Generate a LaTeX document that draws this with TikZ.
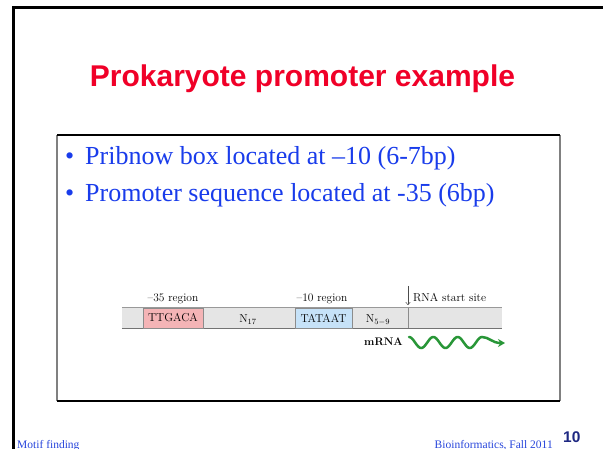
\documentclass[tikz,border=0pt]{standalone}
\usepackage{fontspec}
\newfontfamily\arialfont{Liberation Sans}
\newfontfamily\timesfont{Liberation Serif}
\usetikzlibrary{arrows.meta}
\definecolor{titlered}{RGB}{240,0,40}
\definecolor{bulletblue}{RGB}{25,60,235}
\definecolor{footblue}{RGB}{40,70,220}
\definecolor{numblue}{RGB}{30,40,130}
\definecolor{barfill}{RGB}{229,229,229}
\definecolor{boxpink}{RGB}{244,180,182}
\definecolor{boxblue}{RGB}{198,226,248}
\definecolor{wavegreen}{RGB}{40,150,55}
\tikzset{
  bullettext/.style={anchor=base west, text=bulletblue, inner sep=0,
    font=\timesfont\fontsize{26}{30}\selectfont},
  foottext/.style={text=footblue, inner sep=0,
    font=\timesfont\fontsize{11.5}{13}\selectfont},
  seqbox/.style={draw=black!45, line width=0.6pt, minimum height=20pt,
    inner sep=0, font=\fontsize{11.5}{13}\selectfont},
  lbl/.style={inner sep=0, font=\fontsize{11.5}{13}\selectfont},
  barline/.style={draw=black!40, line width=0.8pt},
  wave/.style={draw=wavegreen, line width=2.5pt, line cap=round,
    -{Stealth[length=7pt,width=8pt]}}
}
\begin{document}
\begin{tikzpicture}[x=1pt,y=-1pt]
\useasboundingbox (0,0) rectangle (603,449);
\clip (0,0) rectangle (603,449);
\fill[white] (0,0) rectangle (603,449);

% slide frame (left and top edges)
\draw[line width=3pt] (13.5,449) -- (13.5,8) -- (603,8);

% title
\node[anchor=base, inner sep=0, text=titlered,
  font=\arialfont\bfseries\fontsize{30}{34}\selectfont] (title) at (302.5,87)
  {Prokaryote promoter example};

% content box
\coordinate (cbnw) at (57,135);
\coordinate (cbse) at (560,401);
\draw[black!50, line width=2pt] (cbnw) -- (cbnw |- cbse);
\draw[black!50, line width=2pt] (cbse) -- (cbse |- cbnw);
\draw[black, line width=1.3pt] (cbnw) -- (cbse |- cbnw);
\draw[black, line width=1.3pt] (cbnw |- cbse) -- (cbse);

% bullet points
\node[bullettext] (b1dot) at (65,165) {•};
\node[bullettext] (b1) at (85,165) {Pribnow box located at –10 (6-7bp)};
\node[bullettext] (b2dot) at (65,202) {•};
\node[bullettext] (b2) at (85,202) {Promoter sequence located at -35 (6bp)};

% DNA bar
\node[fill=barfill, minimum width=380pt, minimum height=20pt, inner sep=0]
  (bar) at (312,318) {};
\draw[barline] (bar.north west) -- (bar.north east);
\draw[black!55, line width=0.9pt] (bar.south west) -- (bar.south east);

\node[seqbox, fill=boxpink, minimum width=60pt] (m35) at (173,318) {TTGACA};
\node[seqbox, fill=boxblue, minimum width=57pt] (m10) at (323.5,318) {TATAAT};
\node[lbl, anchor=base] (n17) at (248,323) {N$_{17}$};
\node[lbl, anchor=base] (n59) at (378,323) {N$_{5-9}$};

% transcription start site
\coordinate (tss) at (408,308);
\coordinate (tsstop) at (408,286);
\coordinate (tsstip) at (408,305);
\draw[black!45, line width=0.6pt] (tss) -- (tss |- bar.south);
\draw[black!70, line width=0.5pt, -{To[length=3pt,width=5pt]}] (tsstop) -- (tsstip);

% region labels
\node[lbl, anchor=base] (l35) at (173,302) {–35 region};
\node[lbl, anchor=base] (l10) at (322,302) {–10 region};
\node[lbl, anchor=base west] (lstart) at (413,302) {RNA start site};

% mRNA with a wavy arrow (period about 24.3pt)
\node[lbl, anchor=base east, font=\bfseries\fontsize{11}{13}\selectfont] (mrna) at (403,345) {mRNA};
\draw[wave] plot[domain=0:73, samples=90]
  ({409+\x}, {342.5-5.5*cos(14.797*\x)})
  .. controls (489,337) and (492,343) .. (505,343);

% footer
\node[foottext, anchor=base west] (fl) at (17,448) {Motif finding};
\node[foottext, anchor=base east] (fr) at (553,448) {Bioinformatics, Fall 2011};
\node[anchor=base west, inner sep=0, text=numblue,
  font=\arialfont\bfseries\fontsize{15.5}{18}\selectfont] (pg) at (563,442) {10};
\end{tikzpicture}
\end{document}
